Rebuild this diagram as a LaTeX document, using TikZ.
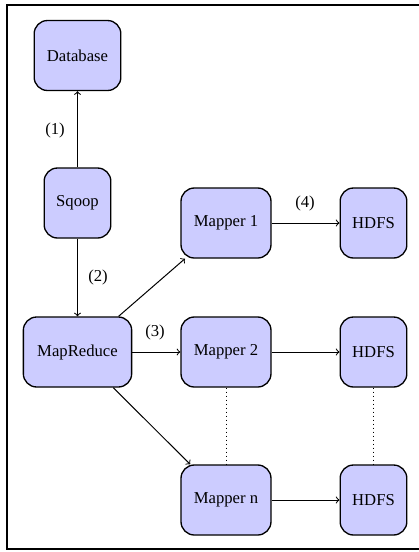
\documentclass[tikz,border=0pt]{standalone}
\usepackage{fontspec}
\setmainfont{Liberation Serif}
\begin{document}
\begin{tikzpicture}[x=0.6pt,y=-0.6pt,
  box/.style={draw, thick, fill=blue!20, rounded corners=8pt, minimum height=42pt, inner sep=0pt},
  conn/.style={->, >=to, semithick}]
\useasboundingbox (0,0) rectangle (419,552);
% outer frame
\draw[thick] (7,5) rectangle (422,549);
% nodes
\node[box, minimum width=52pt] (db) at (77.5,55.5) {Database};
\node[box, minimum width=40pt] (sq) at (77.5,203) {Sqoop};
\node[box, minimum width=65pt] (mr) at (77.5,352) {MapReduce};
\node[box, minimum width=54pt] (m1) at (226,223) {Mapper 1};
\node[box, minimum width=54pt] (m2) at (226,352) {Mapper 2};
\node[box, minimum width=54pt] (mn) at (226,500) {Mapper n};
\node[box, minimum width=40pt] (h1) at (373.5,223) {HDFS};
\node[box, minimum width=40pt] (h2) at (373.5,352) {HDFS};
\node[box, minimum width=40pt] (hn) at (373.5,500) {HDFS};
% connectors
\draw[conn] (sq) -- (db);
\draw[conn] (sq) -- (mr);
\draw[conn] (mr) -- (m1);
\draw[conn] (mr) -- (m2);
\draw[conn] (mr) -- (mn);
\draw[conn] (m1) -- (h1);
\draw[conn] (m2) -- (h2);
\draw[conn] (mn) -- (hn);
\draw[dotted] (m2) -- (mn);
\draw[dotted] (h2) -- (hn);
% step labels
\node (l1) at (55,130) {(1)};
\node (l2) at (98,277) {(2)};
\node (l3) at (155,332) {(3)};
\node (l4) at (305,203) {(4)};
\end{tikzpicture}
\end{document}
